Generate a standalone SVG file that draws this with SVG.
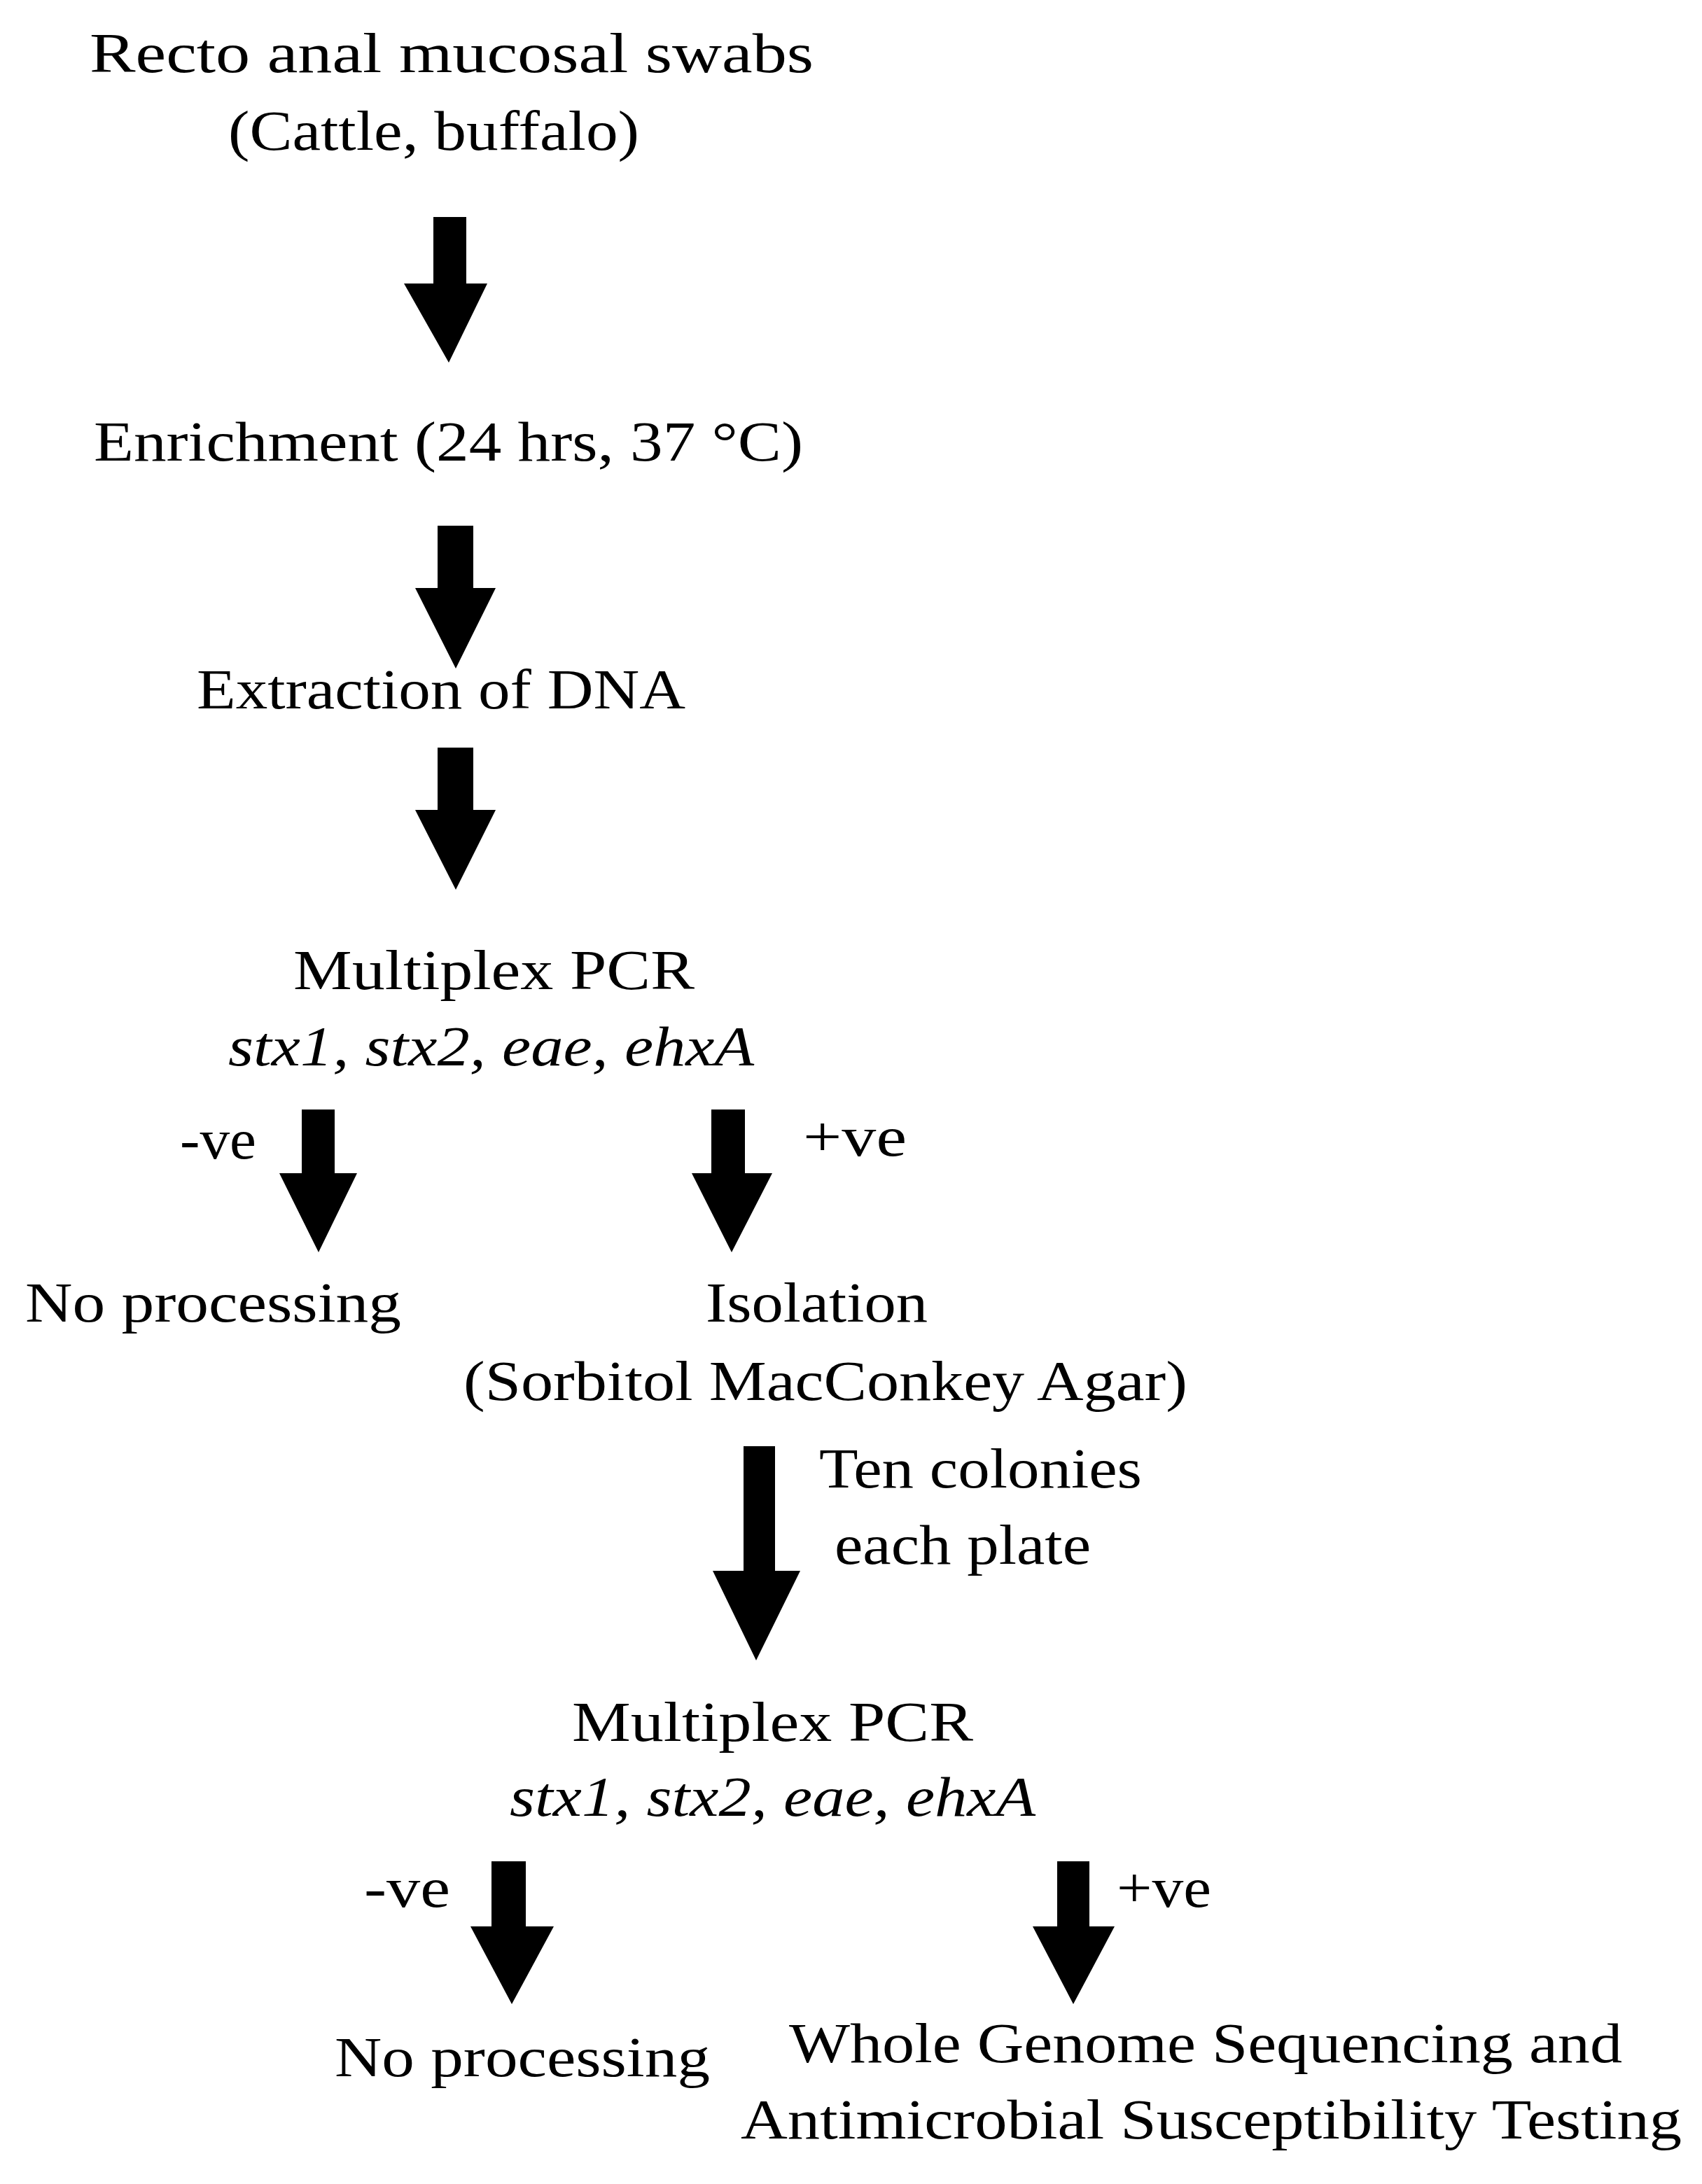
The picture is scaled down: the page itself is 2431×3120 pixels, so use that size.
<svg xmlns="http://www.w3.org/2000/svg" width="2431" height="3120" viewBox="0 0 2431 3120">
<style>
text{font-family:"Liberation Serif","Times New Roman",serif;font-size:80px;fill:#000}
.i{font-style:italic}
.a{fill:#000}
</style>
<rect width="2431" height="3120" fill="#fff"/>
<g id="n1"><text x="128" y="103" textLength="1034" lengthAdjust="spacingAndGlyphs">Recto anal mucosal swabs</text><text x="326" y="214" textLength="587" lengthAdjust="spacingAndGlyphs">(Cattle, buffalo)</text></g>
<g id="n2"><text x="134" y="658" textLength="1013" lengthAdjust="spacingAndGlyphs">Enrichment (24 hrs, 37 °C)</text></g>
<g id="n3"><text x="281" y="1012" textLength="698" lengthAdjust="spacingAndGlyphs">Extraction of DNA</text></g>
<g id="n4"><text x="419" y="1413" textLength="573" lengthAdjust="spacingAndGlyphs">Multiplex PCR</text><text class="i" x="326" y="1522" textLength="751" lengthAdjust="spacingAndGlyphs">stx1, stx2, eae, ehxA</text></g>
<g id="n5"><text x="36" y="1888" textLength="537" lengthAdjust="spacingAndGlyphs">No processing</text></g>
<g id="n6"><text x="1008" y="1888" textLength="317" lengthAdjust="spacingAndGlyphs">Isolation</text><text x="662" y="2000" textLength="1034" lengthAdjust="spacingAndGlyphs">(Sorbitol MacConkey Agar)</text></g>
<g id="n7"><text x="817" y="2487" textLength="573" lengthAdjust="spacingAndGlyphs">Multiplex PCR</text><text class="i" x="728" y="2594" textLength="751" lengthAdjust="spacingAndGlyphs">stx1, stx2, eae, ehxA</text></g>
<g id="n8"><text x="478" y="2966" textLength="536" lengthAdjust="spacingAndGlyphs">No processing</text></g>
<g id="n9"><text x="1127" y="2946" textLength="1190" lengthAdjust="spacingAndGlyphs">Whole Genome Sequencing and</text><text x="1058" y="3055" textLength="1344" lengthAdjust="spacingAndGlyphs">Antimicrobial Susceptibility Testing</text></g>
<g id="connectors">
<polygon class="a" points="619,310 666,310 666,405 696,405 641,518 577,405 619,405"/>
<polygon class="a" points="625,751 676,751 676,840 708,840 651,955 593,840 625,840"/>
<polygon class="a" points="625,1068 676,1068 676,1157 708,1157 651,1271 593,1157 625,1157"/>
<polygon class="a" points="431,1585 478,1585 478,1676 510,1676 455,1789 399,1676 431,1676"/>
<polygon class="a" points="1016,1585 1064,1585 1064,1676 1103,1676 1045,1789 988,1676 1016,1676"/>
<polygon class="a" points="1062,2066 1107,2066 1107,2244 1143,2244 1080,2372 1018,2244 1062,2244"/>
<polygon class="a" points="702,2659 751,2659 751,2752 791,2752 731,2863 672,2752 702,2752"/>
<polygon class="a" points="1510,2659 1556,2659 1556,2752 1592,2752 1533,2863 1475,2752 1510,2752"/>
<text x="257" y="1655" textLength="109" lengthAdjust="spacingAndGlyphs">-ve</text>
<text x="1147" y="1651" textLength="148" lengthAdjust="spacingAndGlyphs">+ve</text>
<text x="1170" y="2125" textLength="461" lengthAdjust="spacingAndGlyphs">Ten colonies</text>
<text x="1192" y="2234" textLength="366" lengthAdjust="spacingAndGlyphs">each plate</text>
<text x="520" y="2724" textLength="123" lengthAdjust="spacingAndGlyphs">-ve</text>
<text x="1595" y="2724" textLength="135" lengthAdjust="spacingAndGlyphs">+ve</text>
</g>
</svg>
